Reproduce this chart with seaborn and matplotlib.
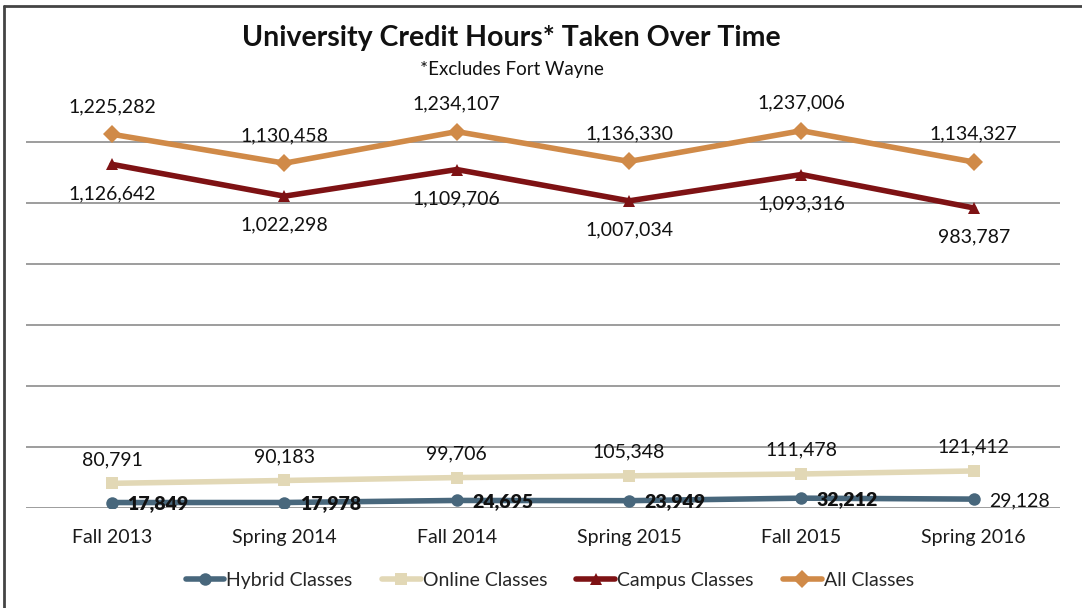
import pandas as pd
import matplotlib.pyplot as plt
import seaborn as sns

# Chart data
terms = ["Fall 2013", "Spring 2014", "Fall 2014", "Spring 2015", "Fall 2015", "Spring 2016"]
hybrid = [17849, 17978, 24695, 23949, 32212, 29128]
online = [80791, 90183, 99706, 105348, 111478, 121412]
campus = [1126642, 1022298, 1109706, 1007034, 1093316, 983787]
all_classes = [1225282, 1130458, 1234107, 1136330, 1237006, 1134327]

series_names = ["Hybrid Classes", "Online Classes", "Campus Classes", "All Classes"]
series_values = [hybrid, online, campus, all_classes]

colors = {
    "Hybrid Classes": "#48677c",
    "Online Classes": "#e2d8b6",
    "Campus Classes": "#7e1214",
    "All Classes": "#d08a48",
}
markers = {
    "Hybrid Classes": "o",
    "Online Classes": "s",
    "Campus Classes": "^",
    "All Classes": "D",
}

rows = []
for name, vals in zip(series_names, series_values):
    for i, v in enumerate(vals):
        rows.append({"term": terms[i], "idx": i, "series": name, "hours": v})
df = pd.DataFrame(rows)

sns.set_theme(style="white")
plt.rcParams["font.family"] = ["Lato", "DejaVu Sans"]

fig = plt.figure(figsize=(10.82, 6.08), dpi=100)
ax = fig.add_axes([0.024, 0.1645, 0.9556, 0.7023])

sns.lineplot(data=df, x="idx", y="hours", hue="series", style="series",
             palette=colors, markers=markers, dashes=False, linewidth=4,
             markersize=9, markeredgewidth=0, ax=ax, hue_order=series_names,
             style_order=series_names)

ax.set_xlim(-0.5, 5.5)
ax.set_ylim(0, 1400000)
ax.set_yticks(range(0, 1400000, 200000))
ax.yaxis.grid(True, color="#8c8c8c", linewidth=1.2)
ax.set_axisbelow(True)
ax.set_yticklabels([])
ax.tick_params(axis="y", length=0)
ax.set_xticks(range(len(terms)))
ax.set_xticklabels(terms, fontsize=14, color="#1a1a1a")
ax.tick_params(axis="x", length=0, pad=15)
ax.set_xlabel("")
ax.set_ylabel("")
for s in ["top", "right", "left", "bottom"]:
    ax.spines[s].set_visible(False)

# data labels
lbl = dict(fontsize=14, color="#111111")
for i in range(len(terms)):
    ax.annotate(f"{all_classes[i]:,}", (i, all_classes[i]), xytext=(0, 20),
                textcoords="offset points", ha="center", va="center", **lbl)
    ax.annotate(f"{campus[i]:,}", (i, campus[i]), xytext=(0, -21),
                textcoords="offset points", ha="center", va="center", **lbl)
    ax.annotate(f"{online[i]:,}", (i, online[i]), xytext=(0, 17),
                textcoords="offset points", ha="center", va="center", **lbl)
    ax.annotate(f"{hybrid[i]:,}", (i, hybrid[i]), xytext=(11, -1),
                textcoords="offset points", ha="left", va="center",
                fontweight="heavy" if i < 5 else "normal", **lbl)

handles, labels = ax.get_legend_handles_labels()
ax.get_legend().remove()
fig.legend(handles, labels, loc="center", bbox_to_anchor=(0.508, 0.045), ncol=4,
           frameon=False, fontsize=14, handlelength=2.0, handletextpad=0.1,
           columnspacing=1.5)

fig.text(0.473, 0.938, "University Credit Hours* Taken Over Time", ha="center",
         va="center", fontsize=20.5, fontweight="bold", color="#111111")
fig.text(0.473, 0.886, "*Excludes Fort Wayne", ha="center", va="center",
         fontsize=13.5, color="#111111")

# outer frame (left and top edges are visible in the original)
fig.add_artist(plt.Line2D([0.0035, 0.0035], [0, 0.99], transform=fig.transFigure,
                          color="#444444", linewidth=2))
fig.add_artist(plt.Line2D([0.0035, 1], [0.99, 0.99], transform=fig.transFigure,
                          color="#444444", linewidth=2))

fig.savefig("out.png", dpi=100)
